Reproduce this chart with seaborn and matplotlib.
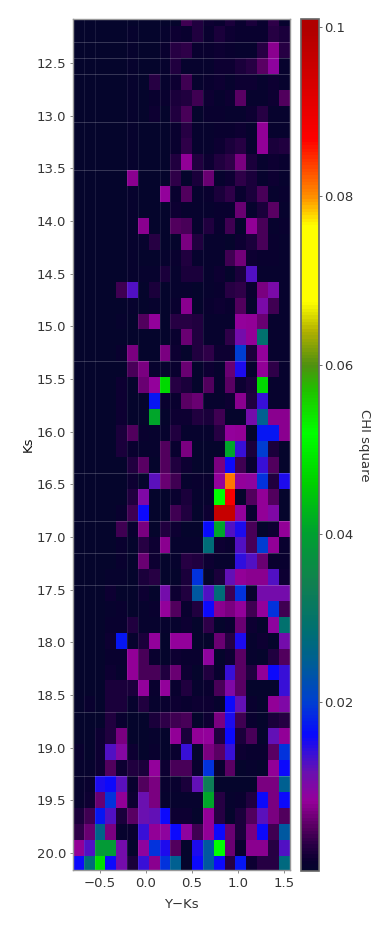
import numpy as np
import pandas as pd
import seaborn as sns
import matplotlib.pyplot as plt
from matplotlib.colors import LinearSegmentedColormap

# reduced chi square per (Y-Ks, Ks) bin, in units of 1e-3
chi_square = [
    [.2, .2, .2, .2, .2, .3, .3, .3, .3, .2, 4, 2.5, 1.5, 1, 2, 1, 2, 1, 3.5, .5],
    [.3, .3, .2, .2, .2, .4, .3, .3, .4, 1.5, .8, 2.5, 1, 2, 1.5, .8, .8, 1, 3, 2],
    [.3, .3, .2, .2, .2, .4, .3, .3, 1, 3, 3.5, .8, 1, 1.5, 1, .5, .5, 3, 7.5, 3],
    [.3, .3, .2, .2, .2, .4, .3, .3, .4, 2.5, .4, .4, .5, 1.5, 1.5, 2, 3, 5.5, 9, .5],
    [.3, .3, .2, .2, .2, .4, .3, 3, .4, 1.2, 4, .5, .8, 1.5, .5, 1.5, 1.2, .5, 1.5, .5],
    [.3, .3, .2, .2, .2, .4, .3, 1, .8, 2, 2.5, 4, 1.5, .5, 1.5, 5.5, .5, .5, 1.5, 5],
    [.3, .3, .2, .2, .2, .4, .3, 1.2, .3, 2.5, 4.5, .3, .8, .8, .6, .4, 1.2, 3, .5, .5],
    [.3, .3, .2, .2, .2, .4, .3, .3, .3, 1, 3, .4, .5, .8, .8, 1.5, .4, 8, .6, .6],
    [.3, .3, .2, .2, .2, .4, .3, .3, .3, 1, 3.5, .4, .5, 1.5, 2, 3, .6, 8, 2, 2.5],
    [.3, .3, .2, .2, .2, .4, .3, .3, .3, 2.5, 8, 2.5, 1.5, 2.5, 3.5, 7, 2, .5, 1.5, 1],
    [.3, .3, .2, .2, .2, 7.5, .3, .3, .3, 3.5, .3, 2, 6, .5, 1.5, 3.5, 2, .5, 1.5, .5],
    [.3, .3, .2, .2, .2, .4, .3, .3, 8.5, .8, 5, .5, 1, 2, 3.5, 1, 2, 4.5, .5, .8],
    [.3, .3, .2, .2, .2, .4, .3, .3, .3, 1.5, .5, .5, .6, .8, .8, 6, .5, 2, 5.5, .5],
    [.3, .3, .2, .2, .2, .4, 7.5, .3, .3, 5, 4.5, .5, 2.5, .8, 4, .3, 8, 4.5, .5, .8],
    [.3, .3, .2, .2, .2, .4, .5, 3, .3, .3, 7, 2.5, .6, .5, .3, 1.5, 2, 4.5, 1, .5],
    [.3, .3, .2, .2, .2, .4, .3, .3, .5, .8, 2.5, .6, .5, .5, 4, 6.5, 1.5, 1, 1, .6],
    [.3, .3, .2, .2, .2, .4, .5, .5, 2, .5, 2, 2, .5, 1.5, .3, 2, 13, .4, .4, .4],
    [.3, .3, .2, .2, 4, 13, .3, 2, .3, .6, .6, .3, .6, 1, 3, 3.5, 1, 7, 10.5, .5],
    [.3, .3, .2, .2, .2, .4, .3, .5, .3, 1, 7.5, .3, .8, 1.5, .8, 5, .3, 10.5, 4, .4],
    [.3, .3, .2, .2, .6, .3, 5, 8.5, .3, 3, 3, 2.5, .4, .4, .4, 8.5, 8, 6, .5, .5],
    [.3, .3, .2, .2, .2, .3, .3, .3, .3, .8, 6, 2.5, .6, .6, 3.5, 11, 8, 29, .6, .6],
    [.3, .3, .2, .2, .8, 7, .3, .3, 7, 1.5, .3, 2.5, 3.5, 1.2, 1.2, 20, 2, 8.5, .4, .4],
    [.3, .3, .2, .2, .2, 4.5, 7, .5, .5, 1, 6, .3, 1.5, .5, 6, 15, .6, 8, 3.5, .4],
    [.3, .3, .2, .2, 1.5, .3, 6, 8.5, 47, 3, 2, .3, 5, .5, 5.5, 1.5, 2, 47, .4, .4],
    [.3, .3, .2, .2, 1.2, .3, .3, 17, .8, .8, 5.5, 6, .6, .5, 1.5, 7.5, 2.5, 14, .5, .4],
    [.3, .3, .2, .2, 1.2, .3, .3, 41, .3, 1.2, 1.2, 2.5, 2, 4, .3, .3, 11, 25, 7.5, 7.5],
    [.3, .3, .2, .2, 2, 5, .8, .5, .5, 2.5, .6, .6, .6, 3, 8.5, 8, .3, 17, 17, 7.5],
    [.3, .3, .2, .2, 2, 1, .4, .4, 5, 1, 7, .3, .3, .3, 41, 14, 2, 20, 2, .3],
    [.3, .3, .2, .2, .2, 2.5, 5.5, .3, 5, 2.5, 1.2, .3, .3, 7, 16, 4, 1, 14, 5, .3],
    [.3, .3, .2, .2, .2, 1.2, .3, 12.5, 6, 4, .6, 1, 1, 8.5, 81, 8.5, 9, 19, 2.5, 15],
    [.3, .3, .2, .2, .2, 2.5, 10, .3, .3, 1, 2, .4, .6, 52, 88, .3, 5, 8, 5, .3],
    [.3, .3, .2, .2, 1, 4, 16, .3, .3, 4, 2.5, .3, 1.2, 96, 96, 8.5, 1, 8, 10, .3],
    [.3, .3, .2, .2, 4, 1, 7, .3, 2.5, 1.2, .3, .3, 16.5, 41, 13, 15, 4.5, .3, 1.5, 8],
    [.3, .3, .2, .2, 1, .3, 3, 1.5, 7.5, .6, .4, .4, 28, 1.5, 1, 13, 4.5, 20, 8, 1],
    [.3, .3, .2, .2, 1, .3, 6, 1.5, .3, .5, 3, 2.5, 1.2, .6, .6, 14.5, 13, 6, 1, 1],
    [.3, .3, .3, .6, .5, .3, 2, 3, .3, .3, 2, 19, .3, 2, 12, 8, 7.5, 7.5, 13, 1.5],
    [.3, .3, .3, 1.5, .3, .3, 1.5, .3, 11, 1.5, 2.5, 24, 13, 28, 4, 19, .4, 11, 11, 11],
    [.3, .3, .3, .5, .8, .3, .6, .8, 8.5, 5, 1, 2.5, 16, 7.5, 7, 8.5, 4, 8.5, 19, 4],
    [.3, .3, .3, .8, .8, 2.5, .6, .6, .4, .5, 1.2, .3, 3.5, .3, 1, 6, 1.5, .3, 9, 29],
    [.3, .3, .3, 1.2, 17, .5, 2, 8.5, .3, 8.5, 8.5, .3, .3, 6, 3, 15, .5, 1.5, .3, 11],
    [.3, .3, .3, .8, 1, 8, 4.5, 1, .3, 1.5, 1, 1, 9, .3, 1.2, 5.5, .5, .3, 2.5, 5],
    [.3, .3, .3, 1.5, .5, 8, 4.5, 4.5, 2.5, 6, 1.2, .3, 2.5, 1, 14, 5.5, 2.5, 8, 16, 14],
    [.3, .3, .3, 2, 2, 2, 8.5, 1, 8.5, .8, 2.5, .6, 1, 4.5, 10, 5.5, .3, .3, .3, 14],
    [.3, .8, .3, 2, 2, .6, 2.5, .6, 1, 1.5, 1, 1.5, 1.5, .5, 16, 12, .8, .3, 8, 10],
    [.3, .3, .3, 2.5, 1, .2, .2, 2, 3.5, 4, 4.5, .3, 1.5, 7, 15, 4, .8, .3, 2, 3],
    [.3, .3, 1.5, 2.5, 7, .3, .3, .5, .2, 8, 2, 8, 8.5, 2.5, 16, 2, 4.5, .3, 12, 8],
    [1, .3, 1.5, 13, 9.5, 1.5, .3, 1, .3, .8, 14, .3, 7, 5.5, 14, 1.5, 1, 1, 5.5, 19],
    [.5, .5, 1.5, 5, 1.5, 2.5, 2, 8.5, 1.2, 4.5, 4.5, 1, 19, 1, 5.5, .3, .6, .3, 8, 16],
    [.5, 1, 15, 16, 12.5, 1, 5, 7, .8, 1, 2, 12, 33, .3, .3, .3, .3, 7, 7, 25],
    [.4, 1.5, 6, 19, 8, 1.5, 11.5, 7, .6, .4, .4, .5, 41, 3, .6, .8, 2.5, 16, 7, 16],
    [2, 4, 17, 13, 2, 5.5, 11.5, 12, 16, 1.5, 1.5, .3, 8, 3, .3, 2, 5, 12.5, 7, 5],
    [3.5, 6, 26, 7, .4, 1, 14, 8, 9, 16, 9, 4, 8, 16, 6, 2, 7, 16, 4, 24],
    [8, 13, 39, 39, 11, .3, 9, 19, 15, 5, .3, 15, 24, 52, 6, 1, 7.5, 7.5, 3, 13],
    [16, 28, 48, 16, 11, 2, 14, 7.5, 19, 25, .3, 16, 24, 16, 3, 17, 1.5, 3, 3, 27],
]

# bin grid of the map
color_start, color_step = -0.79, 0.1174
mag_start, mag_step = 12.0, 0.1515

x_ticks = [-0.5, 0.0, 0.5, 1.0, 1.5]
x_tick_labels = ['\u22120.5', '0.0', '0.5', '1.0', '1.5']
y_ticks = [12.5, 13.0, 13.5, 14.0, 14.5, 15.0, 15.5, 16.0, 16.5, 17.0, 17.5, 18.0, 18.5, 19.0, 19.5, 20.0]
cbar_ticks = [0.02, 0.04, 0.06, 0.08, 0.1]
cbar_tick_labels = ['0.02', '0.04', '0.06', '0.08', '0.1']

# faint seams left between cells in the map
seam_rows = [2, 3, 4, 7, 10, 22, 29, 32, 34, 36, 44, 48]
seam_cols = [1, 2, 5, 6, 8, 9, 12]

vmax = 0.101
cmap_values = [0, .001, .003, .005, .0081, .0115, .0135, .016, .02, .025, .0286, .034, .04, .046,
               .052, .057, .06, .064, .0675, .0766, .08, .0868, .1, .101]
cmap_colors = ['#05052c', '#0a0030', '#2a0046', '#560060', '#96009a', '#6a10b0', '#4010d0', '#0808ff',
               '#0040d0', '#006090', '#007070', '#108050', '#00a030', '#00d000',
               '#00ff00', '#20c000', '#509010', '#b0b000', '#ffff00', '#ffff00', '#ff9000', '#ff0000',
               '#b00000', '#b00000']

sns.set_theme(style='white')
plt.rcParams['font.family'] = ['DejaVu Sans']
text_color = '#333333'

cmap = LinearSegmentedColormap.from_list('chi', [(v / vmax, c) for v, c in zip(cmap_values, cmap_colors)], N=256)
table = pd.DataFrame(np.array(chi_square) * 1e-3)

W, H = 391, 932
fig = plt.figure(figsize=(W / 100, H / 100), dpi=100)
ax = fig.add_axes([73 / W, 1 - 870 / H, 216.5 / W, 851 / H])
cax = fig.add_axes([300.5 / W, 1 - 871 / H, 18 / W, 852 / H])

sns.heatmap(table, ax=ax, cbar_ax=cax, cmap=cmap, vmin=0, vmax=vmax,
            xticklabels=False, yticklabels=False,
            cbar_kws={'ticks': cbar_ticks})

for r in seam_rows:
    ax.axhline(r, color='white', alpha=0.2, lw=0.7)
for c in seam_cols:
    ax.axvline(c, color='white', alpha=0.09, lw=0.7)

# tick positions are given in bin units
ax.set_xticks([(v - color_start) / color_step for v in x_ticks])
ax.set_xticklabels(x_tick_labels, rotation=0)
ax.set_yticks([(v - mag_start) / mag_step for v in y_ticks])
ax.set_yticklabels(['%.1f' % v for v in y_ticks], rotation=0)
ax.set_xlim(0, 20)
ax.set_ylim(53.88, 0.54)
ax.tick_params(axis='both', length=2, width=0.6, color='#777777', labelsize=9.5, labelcolor=text_color, pad=3, bottom=True, left=True)
ax.set_xlabel('Y\u2212Ks', fontsize=9.5, color=text_color, labelpad=6)
ax.set_ylabel('Ks', fontsize=9.5, color='#111111', labelpad=1)
for side in ax.spines.values():
    side.set_visible(True)
    side.set_color('#999999')
    side.set_linewidth(1.0)

cb = ax.collections[0].colorbar
cb.set_ticklabels(cbar_tick_labels)
cb.ax.tick_params(length=2, width=0.6, color='#555555', labelsize=9.5, labelcolor=text_color, pad=2, right=True)
cb.set_label('CHI square', rotation=270, fontsize=9.5, color=text_color, labelpad=13)
cb.outline.set_visible(True)
cb.outline.set_edgecolor('#666666')
cb.outline.set_linewidth(1.2)

fig.savefig('out.png', dpi=100)
